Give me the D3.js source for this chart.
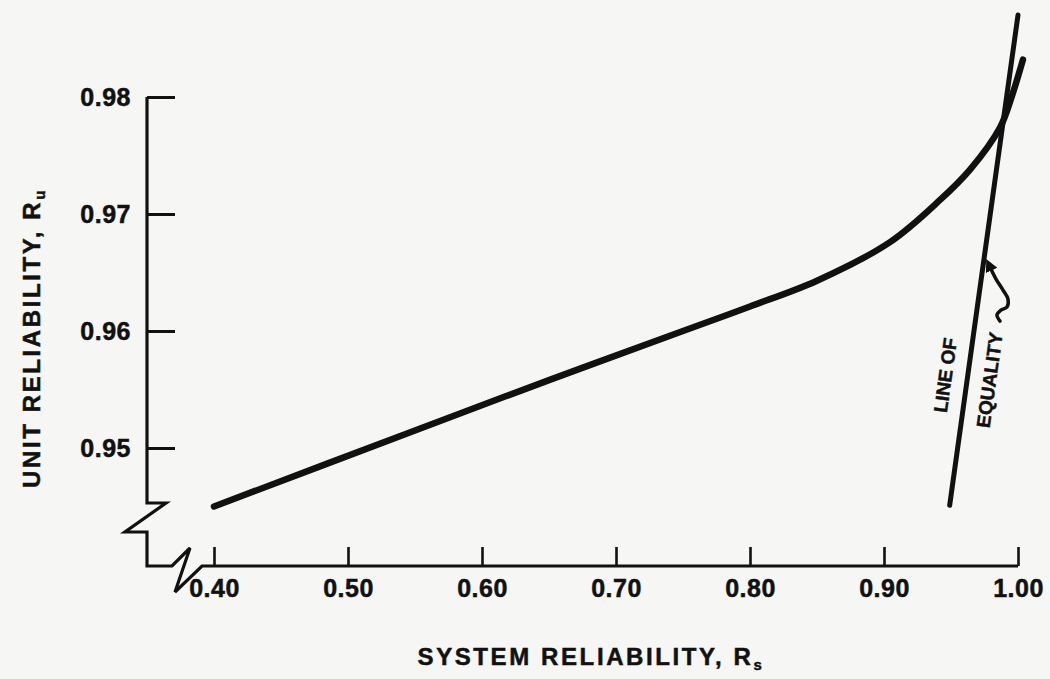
<!DOCTYPE html>
<html>
<head>
<meta charset="utf-8">
<script src="https://cdn.jsdelivr.net/npm/d3@7"></script>
<style>
  html, body { margin: 0; padding: 0; background: #f6f6f4; }
  svg { display: block; }
  text { font-family: "Liberation Sans", Arial, Helvetica, sans-serif; font-weight: bold; fill: #111; stroke: #111; stroke-width: 0.5px; }
</style>
</head>
<body>
<svg id="chart" width="1050" height="679"></svg>
<script>
// ---- data ----
const xTicks = [0.40, 0.50, 0.60, 0.70, 0.80, 0.90, 1.00];
const yTicks = [0.95, 0.96, 0.97, 0.98];
const xTickLabels = ["0.40", "0.50", "0.60", "0.70", "0.80", "0.90", "1.00"];
const yTickLabels = ["0.95", "0.96", "0.97", "0.98"];

// unit reliability curve
const curveRs = [0.400, 0.550, 0.650, 0.750, 0.800, 0.850, 0.9045, 0.9418, 0.9642, 0.9866, 0.9955, 1.0037];
const curveRu = [0.9450, 0.9515, 0.9558, 0.9600, 0.9621, 0.9643, 0.9676, 0.9712, 0.9738, 0.9774, 0.9801, 0.9832];

// line of equality
const eqRs = [0.949, 1.000];
const eqRu = [0.9451, 0.9870];

// annotation arrow (squiggle) in data units, tip first
const arrowRs = [0.9791, 0.9836, 0.9888, 0.9925, 0.9918, 0.9873, 0.9843, 0.9866];
const arrowRu = [0.96547, 0.96444, 0.96350, 0.96274, 0.96205, 0.96179, 0.96137, 0.96085];

const labelLine = { text: "LINE OF", rs: 0.947, ru: 0.9562 };
const labelEq = { text: "EQUALITY", rs: 0.980, ru: 0.9558 };

// ---- layout ----
const svg = d3.select("#chart");
const axisX0 = 147;   // y-axis position
const axisY0 = 566;   // x-axis position

const x = d3.scaleLinear().domain([0.40, 1.00]).range([214, 1018]);
const y = d3.scaleLinear().domain([0.95, 0.98]).range([448, 97]);

const ink = "#111";

// ---- axes with breaks ----
const p = d3.path();
p.moveTo(axisX0, y(0.98));
p.lineTo(axisX0, 503);
p.lineTo(axisX0 + 19, 503);
p.lineTo(axisX0 - 22, 532);
p.lineTo(axisX0, 532);
p.lineTo(axisX0, axisY0);
p.lineTo(axisX0 + 25, axisY0);
p.lineTo(axisX0 + 43, axisY0 - 18);
p.lineTo(axisX0 + 28, axisY0 + 26);
p.lineTo(axisX0 + 55, axisY0);
p.lineTo(x(1.00), axisY0);
svg.append("path").attr("d", p.toString())
  .attr("fill", "none").attr("stroke", ink).attr("stroke-width", 3.2)
  .attr("stroke-linejoin", "miter");

const xAxis = d3.axisBottom(x).tickValues(xTicks)
  .tickFormat((d, i) => xTickLabels[i]).tickSize(-19).tickPadding(13);
const gx = svg.append("g").attr("transform", `translate(0,${axisY0})`).call(xAxis);
gx.select(".domain").remove();
gx.selectAll(".tick line").attr("stroke", ink).attr("stroke-width", 2.6);
gx.selectAll(".tick text").attr("font-size", 25).attr("fill", ink)
  .attr("font-family", "Liberation Sans, Arial, sans-serif").attr("font-weight", "bold")
  .attr("letter-spacing", 0.5);

const yAxis = d3.axisLeft(y).tickValues(yTicks)
  .tickFormat((d, i) => yTickLabels[i]).tickSize(-28).tickPadding(16);
const gy = svg.append("g").attr("transform", `translate(${axisX0},0)`).call(yAxis);
gy.select(".domain").remove();
gy.selectAll(".tick line").attr("stroke", ink).attr("stroke-width", 3);
gy.selectAll(".tick text").attr("font-size", 25).attr("fill", ink)
  .attr("font-family", "Liberation Sans, Arial, sans-serif").attr("font-weight", "bold")
  .attr("letter-spacing", 0.5);

// ---- axis titles ----
const xt = svg.append("text").attr("x", 591).attr("y", 665)
  .attr("text-anchor", "middle").attr("font-size", 24).attr("letter-spacing", 2.6);
xt.append("tspan").text("SYSTEM RELIABILITY, R");
xt.append("tspan").attr("font-size", 15).attr("dy", 5).text("s");

const yt = svg.append("text").attr("transform", "translate(40,338) rotate(-90)")
  .attr("text-anchor", "middle").attr("font-size", 24).attr("letter-spacing", 2.6);
yt.append("tspan").text("UNIT RELIABILITY, R");
yt.append("tspan").attr("font-size", 15).attr("dy", 5).text("u");

// ---- curves ----
const curveData = curveRs.map((d, i) => [d, curveRu[i]]);
const eqData = eqRs.map((d, i) => [d, eqRu[i]]);

svg.append("path").datum(curveData)
  .attr("d", d3.line().x(d => x(d[0])).y(d => y(d[1])).curve(d3.curveCatmullRom.alpha(0.5)))
  .attr("fill", "none").attr("stroke", ink).attr("stroke-width", 6.5)
  .attr("stroke-linecap", "round").attr("stroke-linejoin", "round");

svg.append("path").datum(eqData)
  .attr("d", d3.line().x(d => x(d[0])).y(d => y(d[1])))
  .attr("fill", "none").attr("stroke", ink).attr("stroke-width", 5)
  .attr("stroke-linecap", "round");

// ---- annotation ----
const angle = Math.atan2(y(eqRu[1]) - y(eqRu[0]), x(eqRs[1]) - x(eqRs[0])) * 180 / Math.PI;
[labelLine, labelEq].forEach(l => {
  svg.append("text")
    .attr("transform", `translate(${x(l.rs)},${y(l.ru)}) rotate(${angle})`)
    .attr("text-anchor", "middle").attr("dominant-baseline", "middle")
    .attr("font-size", 19).text(l.text);
});

svg.append("defs").append("marker")
  .attr("id", "ah").attr("viewBox", "0 0 10 10").attr("refX", 3).attr("refY", 5)
  .attr("markerWidth", 3.6).attr("markerHeight", 3.6).attr("markerUnits", "strokeWidth")
  .attr("orient", "auto-start-reverse")
  .append("path").attr("d", "M0,0 L10,5 L0,10 z").attr("fill", ink);

const arrowData = arrowRs.map((d, i) => [d, arrowRu[i]]);
svg.append("path").datum(arrowData)
  .attr("d", d3.line().x(d => x(d[0])).y(d => y(d[1])).curve(d3.curveCatmullRom))
  .attr("fill", "none").attr("stroke", ink).attr("stroke-width", 3.5)
  .attr("stroke-linecap", "round").attr("stroke-linejoin", "round")
  .attr("marker-start", "url(#ah)");
</script>
</body>
</html>
